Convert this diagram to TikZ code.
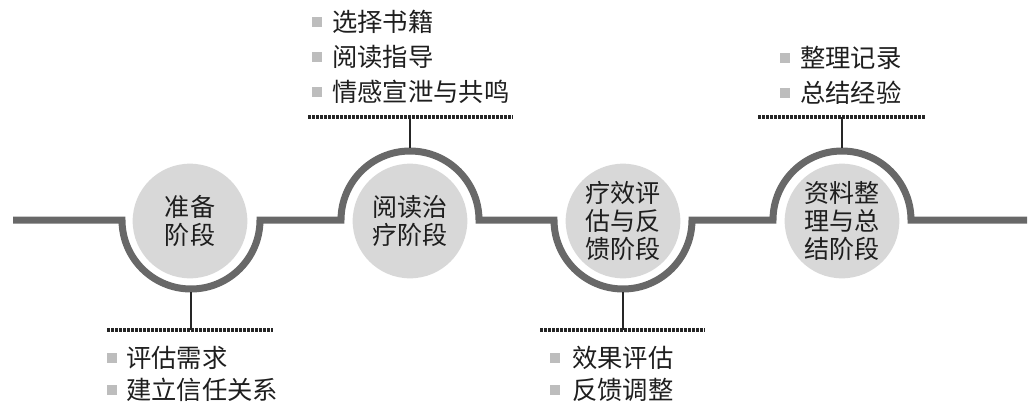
\documentclass[tikz,border=0pt]{standalone}
\usepackage{fontspec}
\newfontfamily\cjk{Noto Sans CJK SC}
\definecolor{trackgray}{HTML}{686868}
\definecolor{circgray}{HTML}{D8D8D8}
\definecolor{bulgray}{HTML}{BDBDBD}
\definecolor{dark}{HTML}{262626}
\definecolor{txt}{HTML}{1E1E1E}
\begin{document}
\begin{tikzpicture}[x=0.75pt,y=-0.75pt,
  track/.style={line width=5.25pt, draw=trackgray},
  stage/.style={circle, fill=circgray, minimum size=86pt, inner sep=0pt, align=center,
    font=\cjk\fontsize{18.8}{21}\selectfont, text=txt},
  item/.style={anchor=west, font=\cjk\fontsize{19}{20}\selectfont, text=txt, inner sep=0pt},
  bul/.style={fill=bulgray, minimum size=7.5pt, inner sep=0pt},
  leader/.style={draw=dark, line width=2.2pt},
  dotline/.style={draw=dark, line width=2.4pt, dash pattern=on 2.2pt off 0.8pt}]
\useasboundingbox (0,0) rectangle (1032,408);
% circles
\node[stage] (s1) at (190,221) {准备\\阶段};
\node[stage] (s2) at (410,221) {阅读治\\疗阶段};
\node[stage] (s3) at (623,221) {疗效评\\估与反\\馈阶段};
\node[stage] (s4) at (842,221) {资料整\\理与总\\结阶段};
% track
\coordinate (l0) at (13,220);
\coordinate (l1) at (122,220);
\coordinate (l2) at (341,220);
\coordinate (l3) at (554,220);
\coordinate (l4) at (773,220);
\coordinate (l5) at (1027,220);
\draw[track] (l0) -- (l1) arc[start angle=180, end angle=0, radius=69]
  -- (l2) arc[start angle=180, end angle=360, radius=69]
  -- (l3) arc[start angle=180, end angle=0, radius=69]
  -- (l4) arc[start angle=180, end angle=360, radius=69]
  -- (l5);
% leaders and dotted lines
\coordinate (a1) at (191,292);
\coordinate (a2) at (410,148);
\coordinate (a3) at (623,292);
\coordinate (a4) at (842,148);
\coordinate (d1l) at (107,330); \coordinate (d1r) at (273,330); \coordinate (d1m) at (191,330);
\coordinate (d2l) at (308,117); \coordinate (d2r) at (513,117); \coordinate (d2m) at (410,117);
\coordinate (d3l) at (540,330); \coordinate (d3r) at (705,330); \coordinate (d3m) at (623,330);
\coordinate (d4l) at (758,117); \coordinate (d4r) at (925,117); \coordinate (d4m) at (842,117);
\draw[dotline] (d1l) -- (d1r);
\draw[dotline] (d2l) -- (d2r);
\draw[dotline] (d3l) -- (d3r);
\draw[dotline] (d4l) -- (d4r);
\draw[leader] (a1) -- (d1m);
\draw[leader] (a2) -- (d2m);
\draw[leader] (a3) -- (d3m);
\draw[leader] (a4) -- (d4m);
% items stage 1
\node[bul] (b11) at (112,358) {}; \node[item] (t11) at (126,358) {评估需求};
\node[bul] (b12) at (112,390) {}; \node[item] (t12) at (126,390) {建立信任关系};
% items stage 2
\node[bul] (b21) at (317,22) {}; \node[item] (t21) at (332,22) {选择书籍};
\node[bul] (b22) at (317,57) {}; \node[item] (t22) at (332,57) {阅读指导};
\node[bul] (b23) at (317,92) {}; \node[item] (t23) at (332,92) {情感宣泄与共鸣};
% items stage 3
\node[bul] (b31) at (555,358) {}; \node[item] (t31) at (572,358) {效果评估};
\node[bul] (b32) at (555,390) {}; \node[item] (t32) at (572,390) {反馈调整};
% items stage 4
\node[bul] (b41) at (785,58) {}; \node[item] (t41) at (800,58) {整理记录};
\node[bul] (b42) at (785,93) {}; \node[item] (t42) at (800,93) {总结经验};
\end{tikzpicture}
\end{document}
